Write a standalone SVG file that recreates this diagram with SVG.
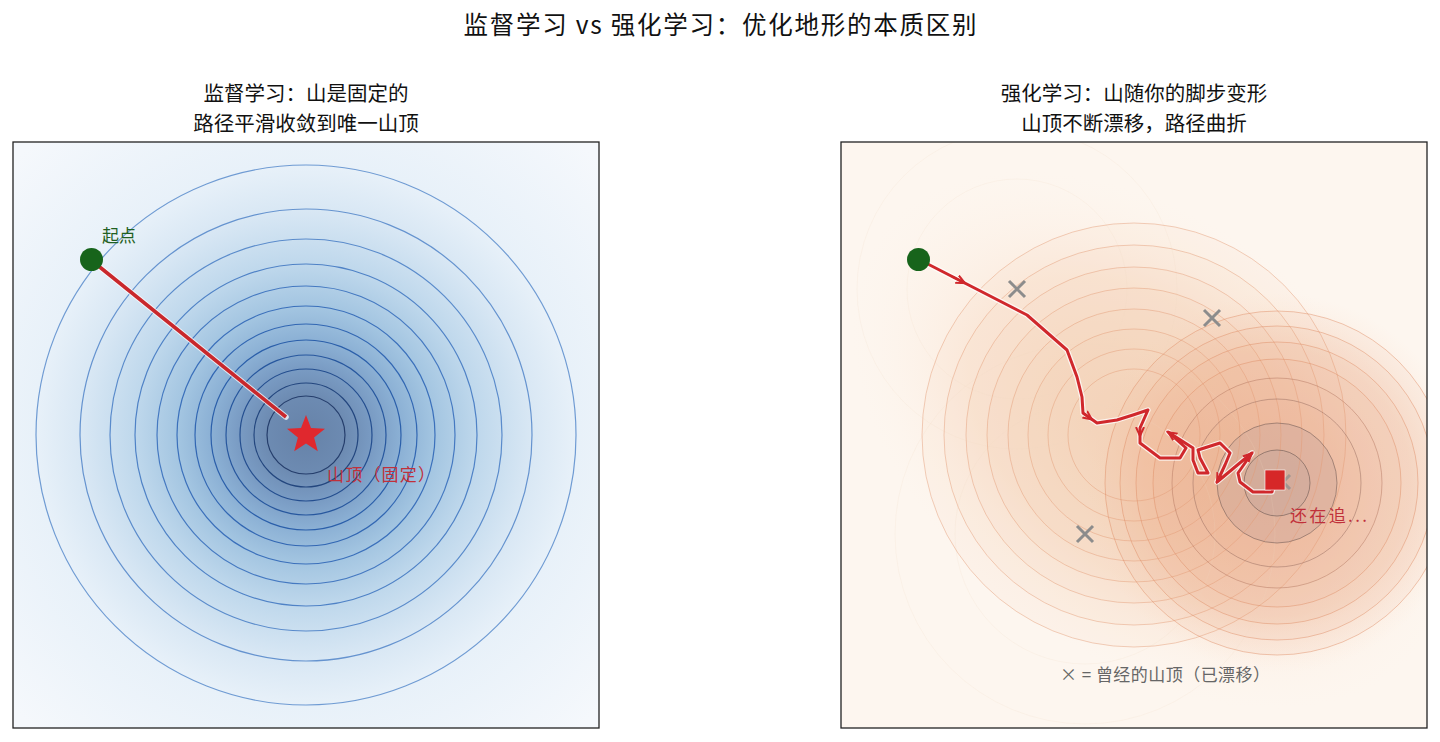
<svg xmlns="http://www.w3.org/2000/svg" width="1440" height="742" viewBox="0 0 1440 742">
<style>
 text{font-family:"Noto Sans CJK SC","Noto Sans",sans-serif}
 .t1{font-size:24.5px;fill:#111}
 .t2{font-size:20.5px;fill:#111}
 .frame{fill:none;stroke:#222;stroke-width:1.3}
 .lc{fill:none;stroke-width:1.2}
 .bc{fill:none;stroke:#e39a74;stroke-width:0.9;opacity:0.5}
 .ac{fill:none;stroke:#de8a62;stroke-width:0.9;opacity:0.5}
 .fc{fill:none;stroke:#f0d4c2;stroke-width:0.8;opacity:0.22}
 .xm{stroke:#8c8c8c;stroke-width:3;stroke-linecap:butt}
 .path{fill:none;stroke:#d0282c;stroke-width:3;stroke-linejoin:round;stroke-linecap:round}
 .halo{fill:none;stroke:#fff;stroke-width:5.5;stroke-linejoin:round;stroke-linecap:round;opacity:0.75}
</style>
<defs>
 <clipPath id="cl"><rect x="13" y="142" width="586" height="586"/></clipPath>
 <clipPath id="cr"><rect x="841" y="142" width="586" height="586"/></clipPath>
 <radialGradient id="lbg" cx="306" cy="435" r="400" gradientUnits="userSpaceOnUse">
  <stop offset="0" stop-color="#6682a8"/>
  <stop offset="0.1" stop-color="#6d8bb2"/>
  <stop offset="0.17" stop-color="#7a9cc4"/>
  <stop offset="0.24" stop-color="#8cb1d5"/>
  <stop offset="0.32" stop-color="#a3c5e1"/>
  <stop offset="0.43" stop-color="#bfd8ec"/>
  <stop offset="0.56" stop-color="#d8e7f4"/>
  <stop offset="0.68" stop-color="#e8f1f9"/>
  <stop offset="1" stop-color="#f5f8fc"/>
 </radialGradient>
 <radialGradient id="rblob" cx="0.5" cy="0.5" r="0.5">
  <stop offset="0" stop-color="#f7cbab" stop-opacity="0.6"/>
  <stop offset="0.6" stop-color="#f9dcc6" stop-opacity="0.4"/>
  <stop offset="1" stop-color="#fdf0e6" stop-opacity="0"/>
 </radialGradient>
 <radialGradient id="rpeak" cx="1277" cy="483" r="190" gradientUnits="userSpaceOnUse">
  <stop offset="0" stop-color="#e9a489" stop-opacity="0.4"/>
  <stop offset="0.7" stop-color="#f4b893" stop-opacity="0.25"/>
  <stop offset="1" stop-color="#f9d0b4" stop-opacity="0"/>
 </radialGradient>
 <marker id="ah" markerWidth="12" markerHeight="12" refX="9" refY="5" orient="auto" markerUnits="userSpaceOnUse">
  <path d="M0,1 L9,5 L0,9" fill="none" stroke="#d0282c" stroke-width="2"/>
 </marker>
</defs>
<rect width="1440" height="742" fill="#fff"/>

<text id="title" class="t1" x="720" y="34" text-anchor="middle" textLength="513" lengthAdjust="spacing">监督学习 vs 强化学习：优化地形的本质区别</text>

<!-- LEFT PANEL -->
<g id="left-panel">
 <text class="t2" x="306" y="101" text-anchor="middle">监督学习：山是固定的</text>
 <text class="t2" x="306" y="131" text-anchor="middle">路径平滑收敛到唯一山顶</text>
 <g id="left-terrain" clip-path="url(#cl)">
  <rect x="13" y="142" width="586" height="586" fill="url(#lbg)"/>
  <g id="left-contours">
   <circle class="lc" cx="306" cy="435" r="270" stroke="#6f9bd3"/>
   <circle class="lc" cx="306" cy="435" r="226" stroke="#6593cf"/>
   <circle class="lc" cx="306" cy="435" r="196" stroke="#5a8bcb"/>
   <circle class="lc" cx="306" cy="435" r="171" stroke="#4f82c6"/>
   <circle class="lc" cx="306" cy="435" r="149" stroke="#4579c1"/>
   <circle class="lc" cx="306" cy="435" r="129" stroke="#3b70bb"/>
   <circle class="lc" cx="306" cy="435" r="111" stroke="#3267b3"/>
   <circle class="lc" cx="306" cy="435" r="95" stroke="#2b5faa"/>
   <circle class="lc" cx="306" cy="435" r="80" stroke="#27579e"/>
   <circle class="lc" cx="306" cy="435" r="66" stroke="#244e8f"/>
   <circle class="lc" cx="306" cy="435" r="52" stroke="#23467e"/>
   <circle class="lc" cx="306" cy="435" r="39" stroke="#253e6c"/>
  </g>
 </g>
 <rect class="frame" x="13" y="142" width="586" height="586"/>
</g>

<g id="left-connectors">
 <line x1="91" y1="260" x2="286" y2="417" class="halo" stroke-linecap="butt"/>
 <line x1="91" y1="260" x2="286" y2="417" stroke="#c9282c" stroke-width="3.6"/>
</g>
<g id="left-start">
 <circle cx="91.5" cy="259.5" r="11.5" fill="#17641b"/>
 <text x="102" y="242" font-size="17" fill="#1f5f22">起点</text>
</g>
<g id="left-peak">
 <polygon points="306,415 311,428.1 325,428.8 314.1,437.6 317.8,451.2 306,443.5 294.2,451.2 297.9,437.6 287,428.8 301,428.1" fill="#e0282e"/>
 <text x="327" y="481" font-size="17" fill="#c0303a" textLength="108" lengthAdjust="spacing">山顶（固定）</text>
</g>

<!-- RIGHT PANEL -->
<g id="right-panel">
 <text class="t2" x="1134" y="101" text-anchor="middle">强化学习：山随你的脚步变形</text>
 <text class="t2" x="1134" y="131" text-anchor="middle">山顶不断漂移，路径曲折</text>
 <g id="right-terrain" clip-path="url(#cr)">
  <rect x="841" y="142" width="586" height="586" fill="#fdf6ef"/>
  <ellipse cx="1150" cy="440" rx="340" ry="215" transform="rotate(38 1150 440)" fill="url(#rblob)"/>
  <g id="fam-b-fill" fill="#f6c7a8" fill-opacity="0.09">
   <circle cx="1134" cy="435" r="212"/>
   <circle cx="1134" cy="435" r="190"/>
   <circle cx="1134" cy="435" r="168"/>
   <circle cx="1134" cy="435" r="147"/>
   <circle cx="1134" cy="435" r="126"/>
   <circle cx="1134" cy="435" r="106"/>
  </g>
  <circle cx="1277" cy="483" r="190" fill="url(#rpeak)"/>
  <g id="fam-a-fill" fill="#eda488" fill-opacity="0.09">
   <circle cx="1277" cy="483" r="172"/>
   <circle cx="1277" cy="483" r="157"/>
   <circle cx="1277" cy="483" r="141"/>
   <circle cx="1277" cy="483" r="124"/>
   <circle cx="1277" cy="483" r="105"/>
   <circle cx="1277" cy="483" r="84"/>
  </g>
  <circle cx="1277" cy="483" r="60" fill="#c6a49a" fill-opacity="0.35"/>
  <circle cx="1277" cy="483" r="33" fill="#bea39d" fill-opacity="0.3"/>
  <g id="fam-old">
   <circle class="fc" cx="1017" cy="289" r="110"/>
   <circle class="fc" cx="1017" cy="289" r="160"/>
   <circle class="fc" cx="1085" cy="534" r="130"/>
   <circle class="fc" cx="1085" cy="534" r="190"/>
  </g>
  <g id="fam-b">
   <circle class="bc" cx="1134" cy="435" r="212"/>
   <circle class="bc" cx="1134" cy="435" r="190"/>
   <circle class="bc" cx="1134" cy="435" r="168"/>
   <circle class="bc" cx="1134" cy="435" r="147"/>
   <circle class="bc" cx="1134" cy="435" r="126"/>
   <circle class="bc" cx="1134" cy="435" r="106"/>
   <circle class="bc" cx="1134" cy="435" r="86"/>
   <circle class="bc" cx="1134" cy="435" r="66"/>
  </g>
  <g id="fam-a">
   <circle class="ac" cx="1277" cy="483" r="172"/>
   <circle class="ac" cx="1277" cy="483" r="157"/>
   <circle class="ac" cx="1277" cy="483" r="141"/>
   <circle class="ac" cx="1277" cy="483" r="124"/>
   <circle class="ac" cx="1277" cy="483" r="105" style="stroke:#b0705a"/>
   <circle class="ac" cx="1277" cy="483" r="84" style="stroke:#8e6458"/>
   <circle class="ac" cx="1277" cy="483" r="60" style="stroke:#6c5650;opacity:0.6"/>
   <circle class="ac" cx="1277" cy="483" r="33" style="stroke:#5e4e4a;opacity:0.6"/>
  </g>
 </g>
 <rect class="frame" x="841" y="142" width="586" height="586"/>
</g>

<g id="old-peaks">
 <path class="xm" d="M1009,281 L1025,297 M1025,281 L1009,297"/>
 <path class="xm" d="M1204,310 L1220,326 M1220,310 L1204,326"/>
 <path class="xm" d="M1077,526 L1093,542 M1093,526 L1077,542"/>
 <path class="xm" d="M1276,475 L1290,489 M1290,475 L1276,489" opacity="0.7"/>
</g>

<g id="right-connectors">
 <path id="rl-halo" class="halo" d="M920,260 L1027,315 L1067,350 L1077,377 L1082,397 L1083,413 L1097,423 L1117,420 L1133,415 L1148,410 L1140,428 L1140,443 L1160,458 L1180,458 L1186,448 L1168,432 L1193,448 L1193,460 L1198,473 L1208,473 L1200,458 L1198,450 L1220,443 L1230,453 L1225,465 L1217,482 L1235,467 L1247,457 L1252,453 L1238,473 L1240,482 L1253,492 L1272,492 L1275,480"/>
 <path id="rl" class="path" d="M920,260 L1027,315 L1067,350 L1077,377 L1082,397 L1083,413 L1097,423 L1117,420 L1133,415 L1148,410 L1140,428 L1140,443 L1160,458 L1180,458 L1186,448 L1168,432 L1193,448 L1193,460 L1198,473 L1208,473 L1200,458 L1198,450 L1220,443 L1230,453 L1225,465 L1217,482 L1235,467 L1247,457 L1252,453 L1238,473 L1240,482 L1253,492 L1272,492 L1275,480"/>
 <g id="arrows" fill="none" stroke="#d0282c" stroke-width="2">
  <path d="M952,276.5 L965,283.2" marker-end="url(#ah)"/>
  <path d="M1083,413 L1092,419.5" marker-end="url(#ah)"/>
  <path d="M1140,426 L1140,436" marker-end="url(#ah)"/>
  <path d="M1180,440 L1168,432" marker-end="url(#ah)"/>
  <path d="M1223,470 L1217,482" marker-end="url(#ah)"/>
  <path d="M1246,459 L1252,453" marker-end="url(#ah)"/>
 </g>
</g>

<g id="right-start">
 <circle cx="918.5" cy="259.5" r="11.5" fill="#17641b"/>
</g>
<g id="right-current">
 <rect x="1265" y="470" width="20" height="20" fill="#d62728" stroke="#fff" stroke-width="0.6"/>
 <text x="1290" y="522" font-size="17" fill="#c0303a" textLength="77" lengthAdjust="spacing">还在追...</text>
</g>
<g id="legend-note">
 <text x="1060" y="681" font-size="17" fill="#666" textLength="210" lengthAdjust="spacing">× = 曾经的山顶（已漂移）</text>
</g>
</svg>
